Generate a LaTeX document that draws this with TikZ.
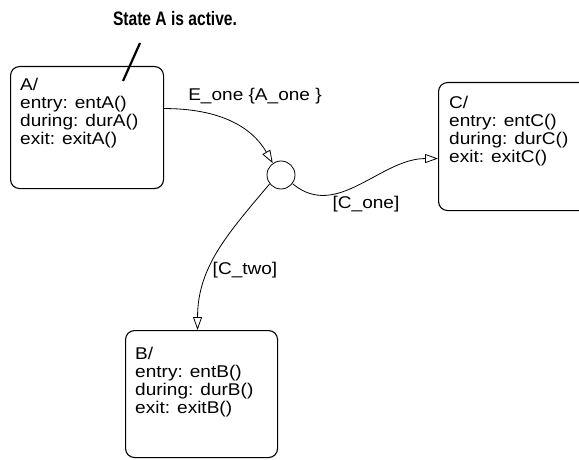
\documentclass[tikz,border=0pt]{standalone}
\usepackage{fontspec}
\setmainfont{Liberation Sans}[FakeStretch=1.12]
\newfontfamily\notefont{Liberation Sans}[FakeStretch=0.8]
\usetikzlibrary{arrows.meta}

\tikzset{
  statebox/.style={draw, line width=1.1pt, rounded corners=9pt, anchor=north west, inner sep=0pt},
  statetext/.style={anchor=north west, align=left, inner sep=0pt, font={\fontsize{17}{18}\selectfont}},
  translabel/.style={anchor=base, inner sep=0pt, font={\fontsize{17}{18}\selectfont}},
  trans/.style={line width=0.8pt, -{Triangle[open,length=13pt,width=9pt]}}
}

\begin{document}
\begin{tikzpicture}[x=1pt,y=-1pt]
\useasboundingbox (0,0) rectangle (579,460);
\node[anchor=base, font={\notefont\bfseries\fontsize{19.5}{20}\selectfont}] (note) at (175,26) {State A is active.};
\coordinate (noteend) at (140,43);
\coordinate (notetip) at (123,81);
\draw[line width=2.2pt] (noteend)--(notetip);

\node[statebox, minimum width=153pt, minimum height=122pt] (A) at (10,66) {};
\node[statetext] (Atext) at (20,78) {A/\\entry: entA()\\during: durA()\\exit: exitA()};
\node[statebox, minimum width=170pt, minimum height=128pt] (C) at (438,82) {};
\node[statetext] (Ctext) at (449,96) {C/\\entry: entC()\\during: durC()\\exit: exitC()};
\node[statebox, minimum width=152pt, minimum height=127pt] (B) at (125,330) {};
\node[statetext] (Btext) at (135,347) {B/\\entry: entB()\\during: durB()\\exit: exitB()};
\node[draw, circle, line width=0.8pt, minimum size=28pt, inner sep=0pt] (J) at (281,175) {};

\draw[trans] ([yshift=19pt]A.east) to[out=0,in=120] (J.125);
\draw[trans] (J.-37) to[out=-40,in=180] ([yshift=-12pt]C.west);
\draw[trans] (J.-142) to[out=-130,in=90] ([xshift=-4pt]B.north);
\node[translabel] (eone) at (255,101) {E\_one \{A\_one \}};
\node[translabel] (cone) at (366,208) {[C\_one]};
\node[translabel] (ctwo) at (245,274) {[C\_two]};
\end{tikzpicture}
\end{document}
